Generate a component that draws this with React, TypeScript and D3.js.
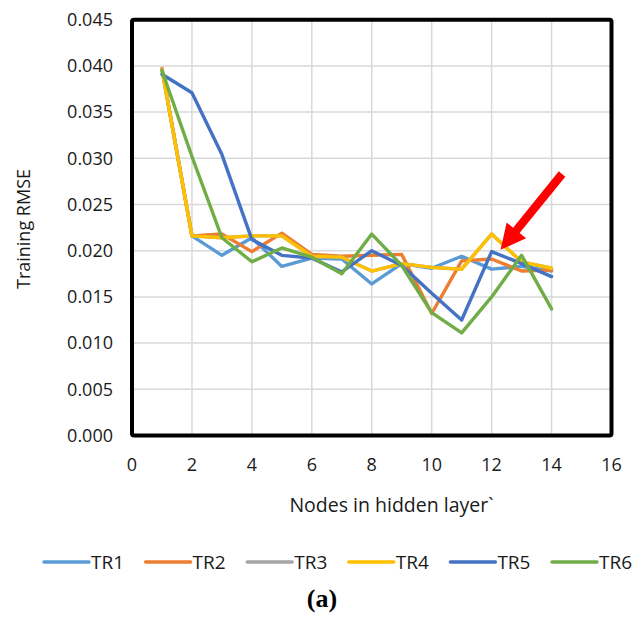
import React from "react";
import * as d3 from "d3";

// Training RMSE per number of hidden-layer nodes, one series per training run
const nodes = [1, 2, 3, 4, 5, 6, 7, 8, 9, 10, 11, 12, 13, 14];
const tr1 = [0.0397, 0.0216, 0.0195, 0.0214, 0.0183, 0.0192, 0.0191, 0.0164, 0.0186, 0.0181, 0.0194, 0.018, 0.0183, 0.0178];
const tr2 = [0.0397, 0.0216, 0.0218, 0.0199, 0.0219, 0.0196, 0.0194, 0.0195, 0.0196, 0.0132, 0.0189, 0.0191, 0.0178, 0.0179];
const tr3 = [0.0396, 0.0216, 0.0214, 0.0216, 0.0216, 0.0194, 0.0193, 0.0178, 0.0186, 0.0182, 0.018, 0.0218, 0.0188, 0.0181];
const tr4 = [0.0396, 0.0216, 0.0214, 0.0216, 0.0216, 0.0194, 0.0193, 0.0178, 0.0186, 0.0182, 0.018, 0.0218, 0.0188, 0.0181];
const tr5 = [0.0391, 0.0371, 0.0304, 0.0212, 0.0195, 0.0192, 0.0177, 0.02, 0.0184, 0.0154, 0.0125, 0.0199, 0.0186, 0.0172];
const tr6 = [0.0395, 0.0302, 0.0214, 0.0188, 0.0203, 0.0193, 0.0175, 0.0218, 0.0184, 0.0133, 0.0111, 0.015, 0.0195, 0.0137];

const seriesNames = ["TR1", "TR2", "TR3", "TR4", "TR5", "TR6"];
const seriesValues = [tr1, tr2, tr3, tr4, tr5, tr6];
const seriesColors = ["#5B9BD5", "#ED7D31", "#A5A5A5", "#FFC000", "#4472C4", "#70AD47"];

const xTicks = [0, 2, 4, 6, 8, 10, 12, 14, 16];
const yTicks = [0, 0.005, 0.01, 0.015, 0.02, 0.025, 0.03, 0.035, 0.04, 0.045];

// arrow pointing at the selected configuration (tail, tip) in data units
const arrowTail = { x: 14.35, y: 0.0283 };
const arrowTip = { x: 12.3, y: 0.0201 };

const W = 644;
const H = 622;
const plot = { left: 132, right: 611.5, top: 19.7, bottom: 435.5 };
const font = "'Open Sans', 'Liberation Sans', sans-serif";
const textColor = "#1a1a1a";

export default function App() {
  const x = d3.scaleLinear().domain([0, 16]).range([plot.left, plot.right]);
  const y = d3.scaleLinear().domain([0, 0.045]).range([plot.bottom, plot.top]);

  const line = d3
    .line<number>()
    .x((_, i) => x(nodes[i]))
    .y((v) => y(v));

  // arrow geometry
  const tx = x(arrowTail.x), ty = y(arrowTail.y);
  const hx = x(arrowTip.x), hy = y(arrowTip.y);
  const ang = Math.atan2(hy - ty, hx - tx);
  const headLen = 25, headHalf = 12.5, shaftHalf = 4.2;
  const ux = Math.cos(ang), uy = Math.sin(ang);
  const px = -uy, py = ux;
  const bx = hx - ux * headLen, by = hy - uy * headLen;
  const arrowPts = [
    [tx + px * shaftHalf, ty + py * shaftHalf],
    [bx + px * shaftHalf, by + py * shaftHalf],
    [bx + px * headHalf, by + py * headHalf],
    [hx, hy],
    [bx - px * headHalf, by - py * headHalf],
    [bx - px * shaftHalf, by - py * shaftHalf],
    [tx - px * shaftHalf, ty - py * shaftHalf],
  ]
    .map((p) => p.join(","))
    .join(" ");

  const legendY = 562;
  const legendX0 = 44;
  const legendStep = 101.6;
  const swatch = 45;

  return (
    <svg
      width={W}
      height={H}
      style={{ position: "absolute", left: 0, top: 0, background: "#fff" }}
      fontFamily={font}
    >
      <rect x={0} y={0} width={W} height={H} fill="#fff" />

      {/* gridlines */}
      {yTicks.slice(1, -1).map((t) => (
        <line key={"gy" + t} x1={plot.left} x2={plot.right} y1={y(t)} y2={y(t)} stroke="#d9d9d9" strokeWidth={1.5} />
      ))}
      {xTicks.slice(1, -1).map((t) => (
        <line key={"gx" + t} x1={x(t)} x2={x(t)} y1={plot.top} y2={plot.bottom} stroke="#d9d9d9" strokeWidth={1.5} />
      ))}

      {/* series */}
      {seriesValues.map((vals, i) => (
        <path
          key={seriesNames[i]}
          d={line(vals) || ""}
          fill="none"
          stroke={seriesColors[i]}
          strokeWidth={3.4}
          strokeLinejoin="round"
          strokeLinecap="round"
        />
      ))}

      {/* plot frame */}
      <rect
        x={plot.left}
        y={plot.top}
        width={plot.right - plot.left}
        height={plot.bottom - plot.top}
        fill="none"
        stroke="#000"
        strokeWidth={4}
        rx={2}
      />

      {/* arrow */}
      <polygon points={arrowPts} fill="#FF0000" />

      {/* y tick labels */}
      {yTicks.map((t) => (
        <text key={"ty" + t} x={113} y={y(t)} dy="0.35em" textAnchor="end" fontSize={18} fill={textColor}>
          {d3.format(".3f")(t)}
        </text>
      ))}
      {/* x tick labels */}
      {xTicks.map((t) => (
        <text key={"tx" + t} x={x(t)} y={465} dy="0.35em" textAnchor="middle" fontSize={18} fill={textColor}>
          {t}
        </text>
      ))}

      {/* axis titles */}
      <text x={391.5} y={505} dy="0.35em" textAnchor="middle" fontSize={19.5} fill={textColor}>
        Nodes in hidden layer`
      </text>
      <text
        transform={`translate(24,229) rotate(-90)`}
        dy="0.35em"
        textAnchor="middle"
        fontSize={18}
        fill={textColor}
      >
        Training RMSE
      </text>

      {/* legend */}
      {seriesNames.map((n, i) => {
        const lx = legendX0 + i * legendStep;
        return (
          <g key={"lg" + n}>
            <line x1={lx} x2={lx + swatch} y1={legendY} y2={legendY} stroke={seriesColors[i]} strokeWidth={3.4} strokeLinecap="round" />
            <text x={lx + swatch + 2} y={legendY} dy="0.35em" fontSize={19} fill={textColor}>
              {n}
            </text>
          </g>
        );
      })}

      {/* panel label */}
      <text x={322} y={598} dy="0.35em" textAnchor="middle" fontSize={26} fontWeight="bold" fontFamily="'Liberation Serif', 'Times New Roman', serif" fill="#000">
        (a)
      </text>
    </svg>
  );
}
